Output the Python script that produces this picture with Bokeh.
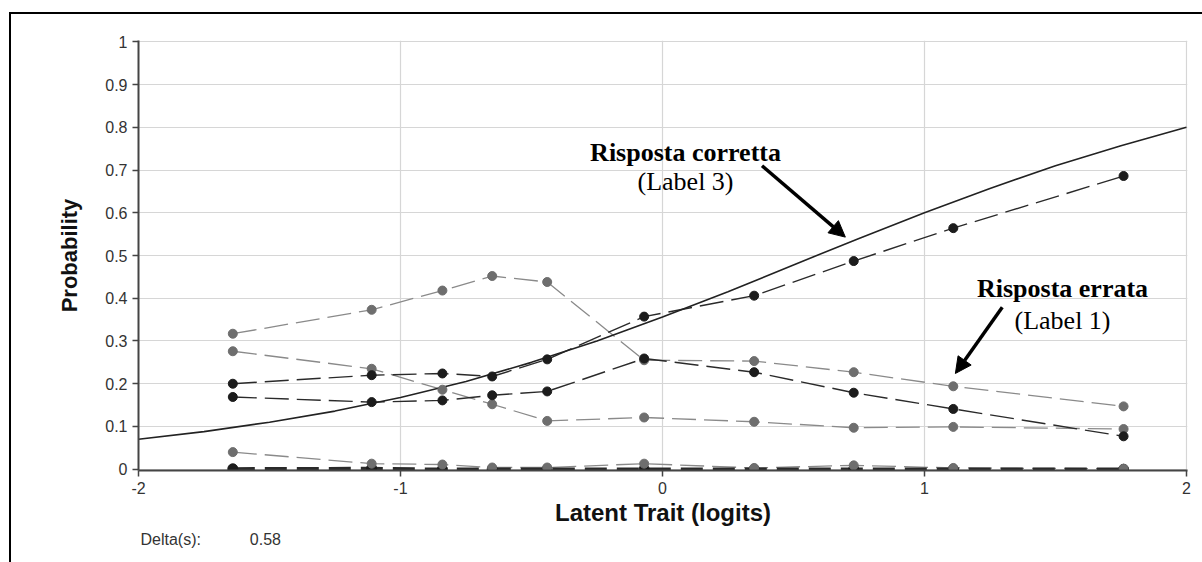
from bokeh.plotting import figure
from bokeh.models import (Range1d, FixedTicker, Label, Arrow, NormalHead, Title,
                          InlineStyleSheet)
from bokeh.embed import file_html
from bokeh.resources import INLINE

# ---- data ----
class_x = [-1.64, -1.11, -0.84, -0.65, -0.44, -0.07, 0.35, 0.73, 1.11, 1.76]

obs_label3 = [0.200, 0.220, 0.224, 0.217, 0.257, 0.357, 0.406, 0.487, 0.564, 0.686]
obs_black2 = [0.169, 0.157, 0.161, 0.173, 0.182, 0.259, 0.227, 0.179, 0.141, 0.077]
obs_black0 = [0.001, 0.002, 0.000, 0.000, 0.000, 0.000, 0.000, 0.000, 0.000, 0.000]
obs_label1 = [0.317, 0.373, 0.418, 0.452, 0.438, 0.255, 0.253, 0.227, 0.194, 0.147]
obs_grey2 = [0.276, 0.235, 0.186, 0.152, 0.113, 0.121, 0.111, 0.097, 0.099, 0.094]
obs_grey3 = [0.040, 0.013, 0.011, 0.004, 0.004, 0.013, 0.003, 0.009, 0.003, 0.001]

curve_x = [-2.0, -1.75, -1.5, -1.25, -1.0, -0.75, -0.5, -0.25, 0.0,
           0.25, 0.5, 0.75, 1.0, 1.25, 1.5, 1.75, 2.0]
curve_y = [0.070, 0.088, 0.110, 0.136, 0.168, 0.205, 0.250, 0.300, 0.356,
           0.415, 0.478, 0.540, 0.600, 0.657, 0.710, 0.757, 0.800]

x_ticks = [-2, -1, 0, 1, 2]
x_tick_labels = ["-2", "-1", "0", "1", "2"]
y_ticks = [0, 0.1, 0.2, 0.3, 0.4, 0.5, 0.6, 0.7, 0.8, 0.9, 1]
y_tick_labels = ["0", "0.1", "0.2", "0.3", "0.4", "0.5", "0.6", "0.7", "0.8", "0.9", "1"]
delta_label = "Delta(s):"
delta_value = "0.58"

# ---- figure ----
p = figure(width=1202, height=562, x_range=Range1d(-2, 2.004), y_range=Range1d(-0.003, 1.003),
           output_backend="svg", toolbar_location=None,
           min_border_left=138, min_border_right=15, min_border_top=40, min_border_bottom=92)
p.outline_line_color = None
p.background_fill_color = "white"
p.border_fill_color = "white"

for ax in (p.xaxis, p.yaxis):
    ax.axis_line_color = "#444444"
    ax.axis_line_width = 2
    ax.major_tick_line_color = "#444444"
    ax.major_tick_line_width = 1.5
    ax.major_tick_in = 0
    ax.major_tick_out = 6
    ax.minor_tick_line_color = None
    ax.major_label_text_font = "Liberation Sans"
    ax.major_label_text_font_size = "16px"
    ax.major_label_text_color = "#333333"
    ax.axis_label_text_font = "Liberation Sans"
    ax.axis_label_text_font_style = "bold"
    ax.axis_label_text_color = "#111111"

p.xaxis.ticker = FixedTicker(ticks=x_ticks)
p.yaxis.ticker = FixedTicker(ticks=y_ticks)
p.xaxis.major_label_overrides = {t: s for t, s in zip(x_ticks, x_tick_labels)}
p.yaxis.major_label_overrides = {t: s for t, s in zip(y_ticks, y_tick_labels)}
p.xaxis.major_label_standoff = 5
p.yaxis.major_label_standoff = 5
p.xaxis.axis_label = "Latent Trait (logits)"
p.yaxis.axis_label = "Probability"
p.xaxis.axis_label_text_font_size = "24px"
p.yaxis.axis_label_text_font_size = "22px"
p.xaxis.axis_label_standoff = 2
p.yaxis.axis_label_standoff = 20

p.xgrid.ticker = FixedTicker(ticks=x_ticks)
p.ygrid.ticker = FixedTicker(ticks=y_ticks)
p.xgrid.grid_line_color = "#d6d6d6"
p.ygrid.grid_line_color = "#d6d6d6"
p.xgrid.grid_line_width = 1.2
p.ygrid.grid_line_width = 1.2

grey_line = "#8a8a8a"
grey_pt = "#6e6e6e"
black_line = "#2a2a2a"
black_pt = "#1c1c1c"

# grey series
for ys in (obs_grey3, obs_grey2, obs_label1):
    p.line(class_x, ys, line_color=grey_line, line_width=1.3, line_dash="24 8")
# near-zero black series (thick)
p.line(class_x, obs_black0, line_color=black_line, line_width=3.2, line_dash="22 10")
for ys in (obs_black2, obs_label3):
    p.line(class_x, ys, line_color=black_line, line_width=1.4, line_dash="24 8")

# expected curve
p.line(curve_x, curve_y, line_color="#222222", line_width=1.6)

p.scatter(class_x, obs_black0, size=10, fill_color=black_pt, line_color=black_pt)
for ys in (obs_grey3, obs_grey2, obs_label1):
    p.scatter(class_x, ys, size=9, fill_color=grey_pt, line_color=grey_pt)
for ys in (obs_black2, obs_label3):
    p.scatter(class_x, ys, size=9, fill_color=black_pt, line_color=black_pt)

# annotations
serif = "Liberation Serif"
p.add_layout(Label(x=0.088, y=0.741, text="Risposta corretta", text_font=serif,
                   text_font_style="bold", text_font_size="26px", text_align="center",
                   text_baseline="alphabetic", text_color="black"))
p.add_layout(Label(x=0.088, y=0.674, text="(Label 3)", text_font=serif,
                   text_font_size="26px", text_align="center",
                   text_baseline="alphabetic", text_color="black"))
p.add_layout(Label(x=1.527, y=0.423, text="Risposta errata", text_font=serif,
                   text_font_style="bold", text_font_size="26px", text_align="center",
                   text_baseline="alphabetic", text_color="black"))
p.add_layout(Label(x=1.527, y=0.348, text="(Label 1)", text_font=serif,
                   text_font_size="26px", text_align="center",
                   text_baseline="alphabetic", text_color="black"))

p.add_layout(Arrow(end=NormalHead(size=16, fill_color="black", line_color="black"),
                   x_start=0.380, y_start=0.710, x_end=0.698, y_end=0.543,
                   line_color="black", line_width=3.5))
p.add_layout(Arrow(end=NormalHead(size=16, fill_color="black", line_color="black"),
                   x_start=1.297, y_start=0.379, x_end=1.118, y_end=0.224,
                   line_color="black", line_width=3.5))

# Delta text below the axis
p.add_layout(Title(text=delta_label + "\u00a0" * 11 + delta_value, align="left", offset=2,
                   text_font="Liberation Sans", text_font_style="normal",
                   text_font_size="16px", text_color="#333333", standoff=0), "below")

# outer frame (left and top edges visible) drawn with CSS
p.stylesheets = [InlineStyleSheet(css=""":host::after {
  content: ""; position: absolute; left: 9px; top: 12px; right: 0px; bottom: 0px;
  border-left: 2px solid #000; border-top: 2px solid #000; pointer-events: none;
}""")]

open("out.html", "w").write(file_html(p, INLINE))
